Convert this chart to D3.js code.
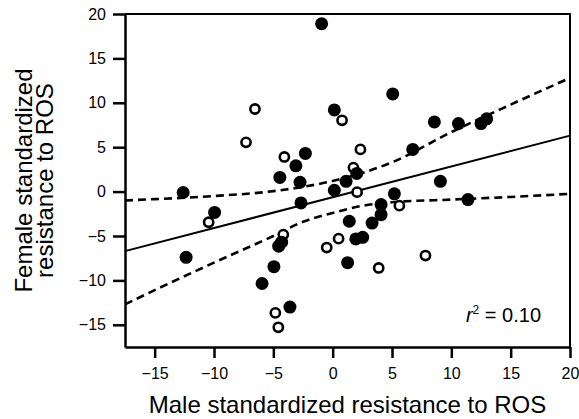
<!DOCTYPE html>
<html>
<head>
<meta charset="utf-8">
<script src="https://cdn.jsdelivr.net/npm/d3@7"></script>
<style>
  body { margin: 0; background: #fff; }
  svg { display: block; font-family: "Liberation Sans", Arial, Helvetica, sans-serif; }
  .axis path, .axis line { stroke: #000; stroke-width: 2.5; }
  .axis text { font-size: 16px; fill: #000; }
  .axis-title { font-size: 24px; fill: #000; }
</style>
</head>
<body>
<div id="chart"></div>
<script>
// filled circles (x = male, y = female)
const filledX = [-12.6, -12.35, -9.95, -5.95, -4.95, -4.55, -4.3, -3.6, -4.45, -3.1, -2.3, -2.75, -2.67,
  -0.93, 0.14, 0.14, 1.13, 2.03, 1.4, 1.26, 1.95, 2.53, 3.32, 4.08, 4.08, 5.06, 5.2, 6.75, 8.57, 9.08,
  10.6, 11.4, 12.5, 12.98];
const filledY = [-0.1, -7.4, -2.35, -10.35, -8.45, -6.15, -5.7, -13.0, 1.6, 2.9, 4.3, 1.05, -1.27,
  18.9, 9.2, 0.15, 1.16, 2.05, -3.34, -8.0, -5.33, -5.15, -3.55, -1.46, -2.6, 11.0, -0.25, 4.75, 7.85, 1.16,
  7.66, -0.9, 7.66, 8.2];

// open circles
const openX = [-10.45, -6.55, -7.3, -4.07, -4.16, -4.83, -4.58, 0.79, 2.34, 1.75, 2.06, 5.62, 0.5, -0.5, 3.88, 7.82];
const openY = [-3.45, 9.3, 5.55, 3.9, -4.84, -13.66, -15.28, 8.03, 4.75, 2.7, -0.06, -1.58, -5.3, -6.3, -8.6, -7.2];

// regression line and confidence band
const fitX = [-17.5, 20];
const fitY = [-6.7, 6.3];
const upperX = [-17.5, -15, -10, -5, 0, 2.5, 5, 10, 15, 20];
const upperY = [-1.0, -0.85, -0.5, 0.05, 1.2, 2.1, 3.3, 6.7, 9.8, 12.8];
const lowerX = [-17.5, -15, -10, -5, -2.5, 0, 2.5, 5, 10, 15, 20];
const lowerY = [-12.7, -11.1, -8.0, -5.0, -3.4, -2.4, -1.6, -1.2, -0.9, -0.6, -0.25];

const xTicks = [-15, -10, -5, 0, 5, 10, 15, 20];
const yTicks = [-15, -10, -5, 0, 5, 10, 15, 20];
const xDomain = [-17.5, 20];
const yDomain = [-17.5, 20];

const xTitle = 'Male standardized resistance to ROS';
const yTitle = ['Female standardized', 'resistance to ROS'];
const statLabel = '0.10';

class ScatterPlot {
  constructor(_config) {
    this.config = {
      parentElement: _config.parentElement,
      containerWidth: _config.containerWidth || 579,
      containerHeight: _config.containerHeight || 419,
      margin: _config.margin || {top: 14, right: 9, bottom: 72, left: 125}
    };
    this.initVis();
  }

  initVis() {
    let vis = this;

    vis.width = vis.config.containerWidth - vis.config.margin.left - vis.config.margin.right;
    vis.height = vis.config.containerHeight - vis.config.margin.top - vis.config.margin.bottom;

    vis.svg = d3.select(vis.config.parentElement).append('svg')
      .attr('width', vis.config.containerWidth)
      .attr('height', vis.config.containerHeight);

    vis.chart = vis.svg.append('g')
      .attr('transform', `translate(${vis.config.margin.left},${vis.config.margin.top})`);

    vis.xScale = d3.scaleLinear().domain(xDomain).range([0, vis.width]);
    vis.yScale = d3.scaleLinear().domain(yDomain).range([vis.height, 0]);

    vis.xAxis = d3.axisBottom(vis.xScale)
      .tickValues(xTicks)
      .tickFormat(d3.format('d'))
      .tickSize(11)
      .tickSizeOuter(0)
      .tickPadding(10);

    vis.yAxis = d3.axisLeft(vis.yScale)
      .tickValues(yTicks)
      .tickFormat(d3.format('d'))
      .tickSize(12)
      .tickSizeOuter(0)
      .tickPadding(7);

    vis.renderVis();
  }

  renderVis() {
    let vis = this;

    // top and right frame
    vis.chart.append('path')
      .attr('d', `M0,0H${vis.width}V${vis.height}`)
      .attr('fill', 'none')
      .attr('stroke', '#000')
      .attr('stroke-width', 2);

    vis.chart.append('g')
      .attr('class', 'axis x-axis')
      .attr('transform', `translate(0,${vis.height})`)
      .call(vis.xAxis);

    vis.chart.append('g')
      .attr('class', 'axis y-axis')
      .call(vis.yAxis);

    const line = d3.line()
      .x(d => vis.xScale(d[0]))
      .y(d => vis.yScale(d[1]))
      .curve(d3.curveMonotoneX);

    vis.chart.append('path')
      .datum(fitX.map((x, i) => [x, fitY[i]]))
      .attr('d', line)
      .attr('fill', 'none')
      .attr('stroke', '#000')
      .attr('stroke-width', 2);

    [[upperX, upperY], [lowerX, lowerY]].forEach(([xs, ys]) => {
      vis.chart.append('path')
        .datum(xs.map((x, i) => [x, ys[i]]))
        .attr('d', line)
        .attr('fill', 'none')
        .attr('stroke', '#000')
        .attr('stroke-width', 2.6)
        .attr('stroke-dasharray', '8,5');
    });

    vis.chart.append('g').selectAll('circle')
      .data(openX.map((x, i) => [x, openY[i]]))
      .join('circle')
      .attr('cx', d => vis.xScale(d[0]))
      .attr('cy', d => vis.yScale(d[1]))
      .attr('r', 4.6)
      .attr('fill', '#fff')
      .attr('stroke', '#000')
      .attr('stroke-width', 2.6);

    vis.chart.append('g').selectAll('circle')
      .data(filledX.map((x, i) => [x, filledY[i]]))
      .join('circle')
      .attr('cx', d => vis.xScale(d[0]))
      .attr('cy', d => vis.yScale(d[1]))
      .attr('r', 6.5)
      .attr('fill', '#000');

    // r^2 annotation
    const stat = vis.chart.append('text')
      .attr('x', vis.width - 29)
      .attr('y', vis.height - 25)
      .attr('text-anchor', 'end')
      .attr('font-size', 20)
      .attr('fill', '#000');
    stat.append('tspan').attr('font-style', 'italic').text('r');
    stat.append('tspan').attr('font-size', 12).attr('dy', -8).text('2');
    stat.append('tspan').attr('dy', 8).text(` = ${statLabel}`);

    // axis titles
    vis.svg.append('text')
      .attr('class', 'axis-title')
      .attr('x', vis.config.margin.left + vis.width / 2)
      .attr('y', 413)
      .attr('text-anchor', 'middle')
      .text(xTitle);

    const yMid = vis.config.margin.top + vis.height / 2;
    vis.svg.append('text')
      .attr('class', 'axis-title')
      .attr('text-anchor', 'middle')
      .attr('transform', `translate(32,${yMid}) rotate(-90)`)
      .selectAll('tspan')
      .data(yTitle)
      .join('tspan')
      .attr('x', 0)
      .attr('y', (d, i) => i * 21)
      .text(d => d);
  }
}

new ScatterPlot({ parentElement: '#chart' });
</script>
</body>
</html>
